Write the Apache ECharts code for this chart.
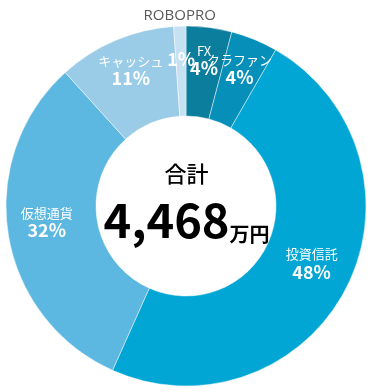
<!DOCTYPE html>
<html>
<head>
<meta charset="utf-8">
<script src="https://cdn.jsdelivr.net/npm/echarts@6/dist/echarts.min.js"></script>
<style>
  html, body { margin: 0; padding: 0; background: #ffffff; }
  #chart { width: 373px; height: 392px; }
</style>
</head>
<body>
<div id="chart"></div>
<script>
// Data (万円)
const categories = ['FX', 'クラファン', '投資信託', '仮想通貨', 'キャッシュ', 'ROBOPRO'];
const amounts = [183, 188, 2162, 1412, 474, 49];
const colors = ['#0A7E9C', '#068FB8', '#02A6D4', '#5CB7E1', '#9BCCE7', '#C6E1F2'];
const outsideNameItems = ['ROBOPRO'];
const totalLabel = '合計';
const unitLabel = '万円';

const total = amounts.reduce((a, b) => a + b, 0);
const totalText = total.toLocaleString('en-US');

const font = '"Noto Sans CJK JP", "Noto Sans", sans-serif';

const chart = echarts.init(document.getElementById('chart'), null, { renderer: 'canvas' });

const mainData = categories.map((name, i) => {
  const outside = outsideNameItems.includes(name);
  return {
    name: name,
    value: amounts[i],
    itemStyle: { color: colors[i] },
    label: outside ? {
      show: true,
      position: 'outside',
      formatter: '{b}',
      color: '#595959',
      fontSize: 15,
      fontFamily: '"Open Sans", "Noto Sans", sans-serif'
    } : { show: false },
    labelLine: { show: false, length: 2, length2: 0 }
  };
});

const labelData = categories.map((name, i) => {
  const outside = outsideNameItems.includes(name);
  return {
    name: name,
    value: amounts[i],
    label: {
      formatter: outside ? '{p|{d}%}' : '{n|{b}}\n{p|{d}%}'
    }
  };
});

const option = {
  animation: false,
  backgroundColor: '#ffffff',
  graphic: [
    {
      type: 'text',
      left: 'center',
      top: 163,
      style: {
        text: totalLabel,
        font: '500 22px ' + font,
        fill: '#000000'
      }
    },
    {
      type: 'text',
      left: 'center',
      top: 197,
      style: {
        text: '{a|' + totalText + '}{b|' + unitLabel + '}',
        rich: {
          a: { fontSize: 47, fontWeight: 'bold', fontFamily: font, color: '#000', verticalAlign: 'bottom', lineHeight: 56 },
          b: { fontSize: 20, fontWeight: 'bold', fontFamily: font, color: '#000', verticalAlign: 'bottom', lineHeight: 44 }
        }
      }
    }
  ],
  series: [
    {
      type: 'pie',
      center: [186, 206],
      radius: [90, 180],
      startAngle: 90,
      clockwise: true,
      percentPrecision: 0,
      avoidLabelOverlap: false,
      silent: true,
      itemStyle: { borderColor: 'rgba(255,255,255,0.45)', borderWidth: 1 },
      labelLayout: function () {
        return { align: 'center', verticalAlign: 'bottom', dx: 5, dy: -1, hideOverlap: false };
      },
      data: mainData
    },
    {
      type: 'pie',
      center: [186, 206],
      radius: [92, 184],
      startAngle: 90,
      clockwise: true,
      percentPrecision: 0,
      avoidLabelOverlap: false,
      silent: true,
      itemStyle: { color: 'rgba(0,0,0,0)' },
      label: {
        show: true,
        position: 'inside',
        lineHeight: 17,
        rich: {
          n: { color: '#ffffff', fontSize: 13, fontFamily: font, lineHeight: 16 },
          p: { color: '#ffffff', fontSize: 18, fontWeight: 'bold', fontFamily: font, lineHeight: 19 }
        }
      },
      labelLayout: function () {
        return { hideOverlap: false, dy: -6 };
      },
      labelLine: { show: false },
      data: labelData
    }
  ]
};

chart.setOption(option);
</script>
</body>
</html>
